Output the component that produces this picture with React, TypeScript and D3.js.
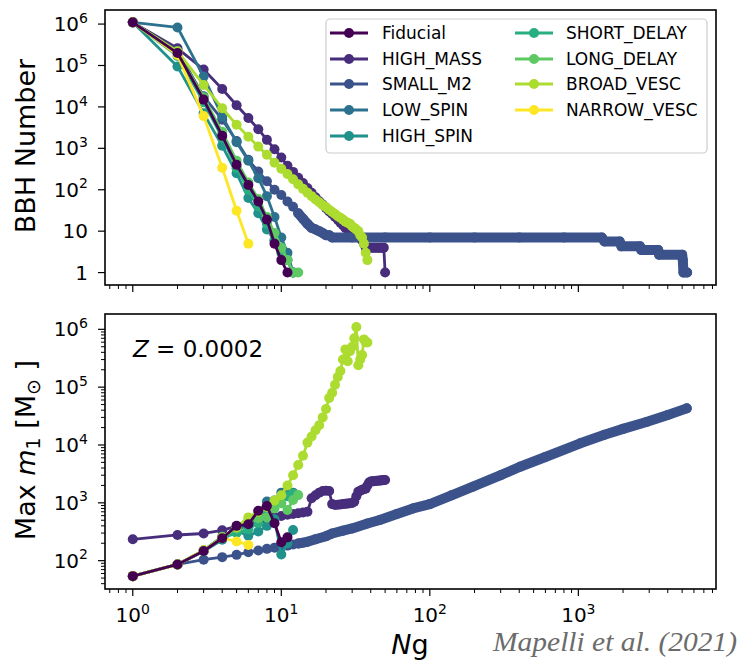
import React from 'react';
import * as d3 from 'd3';

// ---------- DATA ----------
const seriesNames = ['Fiducial', 'HIGH_MASS', 'SMALL_M2', 'LOW_SPIN', 'HIGH_SPIN', 'SHORT_DELAY', 'LONG_DELAY', 'BROAD_VESC', 'NARROW_VESC'];

// BBH number vs Ng (Ng = 1,2,3,... unless an Ng list is given)
const fiducialTop = [1.1e6, 2e5, 1.5e4, 2000, 400, 130, 52, 19, 5, 2, 1];
const highMassTop = [1.1e6, 2.6e5, 8e4, 2.7e4, 1.1e4, 5400, 2900, 1600, 950, 600,
  380, 270, 195, 145, 110, 85, 66, 53, 44, 36,
  30, 26, 22, 19, 16, 14, 12, 11, 10, 9,
  8, 8, 7, 7, 6, 5, 4, 4, 4, 4,
  4, 4, 4, 4, 4, 4, 4, 4, 4, 1];
const smallM2TopNg = [1, 2, 3, 4, 5, 6, 7, 8, 9, 10, 11, 12, 13, 14, 15, 16, 17, 18, 19, 20, 21, 22,
  30, 50, 100, 200, 400, 800, 1440, 1500, 1900, 1950, 2600, 2650, 3450, 3500, 5000, 5050, 5100, 5400];
const smallM2Top = [1.1e6, 2.3e5, 1.8e4, 4900, 1500, 530, 275, 160, 100, 75, 52, 39, 27, 20, 15, 12, 11, 10, 9, 8, 8, 7,
  7, 7, 7, 7, 7, 7, 7, 5.6, 5.6, 4.3, 4.3, 3.5, 3.5, 2.7, 2.7, 2, 1, 1];
const lowSpinTop = [1.1e6, 8.3e5, 5.4e4, 5900, 1400, 500, 190, 70, 22, 7, 3, 1];
const highSpinTop = [1.1e6, 9.5e4, 7000, 1150, 250, 63, 27, 11, 6, 4, 2, 1];
const shortDelayTop = [1.1e6, 1.7e5, 1.3e4, 1800, 330, 100, 40, 15, 6, 3, 2, 1];
const longDelayTop = [1.1e6, 2.1e5, 1.7e4, 2500, 500, 150, 60, 22, 9, 4, 2, 1, 1];
const broadVescTop = [1.1e6, 2.2e5, 3.4e4, 9300, 3700, 1900, 1100, 700, 450, 320,
  240, 180, 135, 105, 85, 70, 58, 50, 43, 38,
  33, 29, 26, 23, 21, 19, 17, 16, 15, 13,
  12, 11, 10, 8, 7, 5, 3, 2];
const narrowVescTop = [1.1e6, 1.8e5, 6000, 340, 31, 5];

// Max m1 [Msun] vs Ng
const fiducialMax = [54, 86, 147, 244, 400, 425, 730, 880, 443, 208, 253];
const highMassMax = [234, 278, 295, 335, 395, 430, 470, 520, 570, 590,
  620, 640, 660, 680, 700, 1200, 1350, 1500, 1600, 1620,
  1600, 950, 920, 930, 940, 950, 960, 970, 980, 990,
  1050, 1300, 1560, 1620, 1680, 1720, 1760, 2000, 2250, 2330,
  2350, 2370, 2390, 2400, 2420, 2430, 2440, 2450, 2470, 2480];
const smallM2MaxNg = [1, 2, 3, 4, 5, 6, 7, 8, 9, 10, 11, 12, 13, 14, 15, 17, 20, 22, 26, 30, 38, 46, 60, 77, 100, 140, 195, 300, 405, 600, 1030, 1500, 2000, 2870, 4000, 5370];
const smallM2Max = [54, 86, 104, 115, 126, 140, 150, 160, 168, 175, 182, 190, 198, 205, 212, 235, 265, 295, 330, 360, 440, 505, 640, 800, 950, 1350, 1900, 3000, 4200, 6200, 10700, 15000, 19000, 25000, 33000, 43000];
const lowSpinMax = [54, 86, 150, 260, 330, 420, 700, 1050, 1100, 1500, 1450, 1500];
const highSpinMax = [54, 86, 145, 230, 330, 270, 320, 400, 520, 128, 200, 340];
const shortDelayMax = [54, 86, 150, 250, 300, 350, 450, 620, 1000, 1200, 1300, 1450];
const longDelayMax = [54, 86, 150, 260, 360, 500, 540, 560, 800, 980, 750, 1120, 1360];
const broadVescMax = [54, 86, 150, 250, 380, 560, 700, 850, 1100, 1350,
  2000, 3000, 4500, 6500, 1.1e4, 1.4e4, 1.8e4, 2.2e4, 3e4, 4.2e4,
  6.5e4, 8e4, 1.1e5, 1.5e5, 1.9e5, 3e5, 4.5e5, 2.8e5, 4.2e5, 5e5,
  7e5, 1.1e6, 2.4e5, 3e5, 3.6e5, 6.7e5, 6e5, 5.9e5];
const narrowVescMax = [54, 86, 150, 245, 215, 187];

const topValues = [fiducialTop, highMassTop, smallM2Top, lowSpinTop, highSpinTop, shortDelayTop, longDelayTop, broadVescTop, narrowVescTop];
const maxValues = [fiducialMax, highMassMax, smallM2Max, lowSpinMax, highSpinMax, shortDelayMax, longDelayMax, broadVescMax, narrowVescMax];
const topNg: (number[] | null)[] = [null, null, smallM2TopNg, null, null, null, null, null, null];
const maxNg: (number[] | null)[] = [null, null, smallM2MaxNg, null, null, null, null, null, null];

const xMajorTicks = [1, 10, 100, 1000];
const topYMajor = [1, 10, 100, 1e3, 1e4, 1e5, 1e6];
const botYMajor = [1e2, 1e3, 1e4, 1e5, 1e6];

// ---------- LAYOUT ----------
const W = 738, H = 660;
const X0 = 105, X1 = 716;
const TOP = { y0: 10, y1: 285 };
const BOT = { y0: 314, y1: 589 };
const FONT = 'DejaVu Sans, sans-serif';
const LW = 2.8;
const MR = 5;

const xScale = d3.scaleLog().domain([0.65, 8450]).range([X0, X1]);
const yTop = d3.scaleLog().domain([Math.pow(10, -0.3), Math.pow(10, 6.34)]).range([TOP.y1, TOP.y0]);
const yBot = d3.scaleLog().domain([Math.pow(10, 1.51), Math.pow(10, 6.265)]).range([BOT.y1, BOT.y0]);

const colors = seriesNames.map((_, i) => d3.interpolateViridis(i / 8));
const drawOrder = [1, 2, 3, 4, 5, 6, 7, 8, 0];

type Pt = { x: number; y: number };
function toPoints(vals: number[], ngs: number[] | null): Pt[] {
  return vals.map((v, i) => ({ x: ngs ? ngs[i] : i + 1, y: v }));
}

function minorTicks(scale: d3.ScaleLogarithmic<number, number>): number[] {
  const [a, b] = scale.domain();
  const out: number[] = [];
  for (let e = Math.floor(Math.log10(a)); e <= Math.ceil(Math.log10(b)); e++) {
    for (let k = 2; k <= 9; k++) {
      const v = k * Math.pow(10, e);
      if (v >= a && v <= b) out.push(v);
    }
  }
  return out;
}

function Pow10({ e, x, y, anchor, size, plain }: { e: number; x: number; y: number; anchor: string; size: number; plain?: boolean }) {
  if (plain && e === 0) return <text x={x} y={y} dy="0.35em" textAnchor={anchor} fontSize={size} fontFamily={FONT}>1</text>;
  if (plain && e === 1) return <text x={x} y={y} dy="0.35em" textAnchor={anchor} fontSize={size} fontFamily={FONT}>10</text>;
  return (
    <text x={x} y={y} dy="0.35em" textAnchor={anchor} fontSize={size} fontFamily={FONT}>
      10<tspan dy={-size * 0.42} fontSize={size * 0.7}>{e}</tspan>
    </text>
  );
}

function Panel({ yScale, box, values, ngs, yMajor, yMinor, plainLabels, clipId }: any) {
  const line = d3.line<Pt>().x(d => xScale(d.x)).y(d => yScale(d.y));
  const xMinor = minorTicks(xScale);
  return (
    <g>
      <defs>
        <clipPath id={clipId}>
          <rect x={X0} y={box.y0} width={X1 - X0} height={box.y1 - box.y0} />
        </clipPath>
      </defs>
      <g clipPath={`url(#${clipId})`}>
        {drawOrder.map(i => {
          const pts = toPoints(values[i], ngs[i]);
          const c = colors[i];
          const band = ngs[i] ? pts.filter(p => p.x >= 13) : [];
          return (
            <g key={i}>
              {band.length > 1 && (
                <path d={line(band) || ''} fill="none" stroke={c} strokeWidth={MR * 2} strokeLinecap="round" strokeLinejoin="round" />
              )}
              <path d={line(pts) || ''} fill="none" stroke={c} strokeWidth={LW} strokeLinejoin="round" />
              {pts.map((p, j) => (
                <circle key={j} cx={xScale(p.x)} cy={yScale(p.y)} r={MR} fill={c} />
              ))}
            </g>
          );
        })}
      </g>
      {xMajorTicks.map(t => (
        <line key={'xM' + t} x1={xScale(t)} x2={xScale(t)} y1={box.y1} y2={box.y1 + 7} stroke="#000" strokeWidth={1.2} />
      ))}
      {xMinor.map(t => (
        <line key={'xm' + t} x1={xScale(t)} x2={xScale(t)} y1={box.y1} y2={box.y1 + 4} stroke="#000" strokeWidth={1} />
      ))}
      {yMajor.map((t: number) => (
        <line key={'yM' + t} x1={X0 - 7} x2={X0} y1={yScale(t)} y2={yScale(t)} stroke="#000" strokeWidth={1.2} />
      ))}
      {yMinor.map((t: number) => (
        <line key={'ym' + t} x1={X0 - 4} x2={X0} y1={yScale(t)} y2={yScale(t)} stroke="#000" strokeWidth={1} />
      ))}
      {yMajor.map((t: number) => (
        <Pow10 key={'yl' + t} e={Math.round(Math.log10(t))} x={X0 - 17} y={yScale(t)} anchor="end" size={20} plain={plainLabels} />
      ))}
      <rect x={X0} y={box.y0} width={X1 - X0} height={box.y1 - box.y0} fill="none" stroke="#000" strokeWidth={1.6} />
    </g>
  );
}

function Legend() {
  const lx = 326, ly = 19, lw = 381, lh = 134;
  const rowY = [33, 59, 84, 110, 136];
  const cols = [{ h0: 330, h1: 368, tx: 382 }, { h0: 515, h1: 553, tx: 566 }];
  return (
    <g>
      <rect x={lx} y={ly} width={lw} height={lh} rx={4} fill="#fff" fillOpacity={0.8} stroke="#cccccc" strokeWidth={1.2} />
      {seriesNames.map((name, i) => {
        const col = i < 5 ? cols[0] : cols[1];
        const y = rowY[i < 5 ? i : i - 5];
        return (
          <g key={name}>
            <line x1={col.h0} x2={col.h1} y1={y} y2={y} stroke={colors[i]} strokeWidth={LW} />
            <circle cx={(col.h0 + col.h1) / 2} cy={y} r={MR} fill={colors[i]} />
            <text x={col.tx} y={y} dy="0.35em" fontSize={17} fontFamily={FONT}>{name}</text>
          </g>
        );
      })}
    </g>
  );
}

export default function App() {
  return (
    <div style={{ position: 'absolute', left: 0, top: 0 }}>
      <svg width={W} height={H} viewBox={`0 0 ${W} ${H}`} style={{ display: 'block' }}>
        <rect x={0} y={0} width={W} height={H} fill="#fff" />
        <Panel yScale={yTop} box={TOP} values={topValues} ngs={topNg} yMajor={topYMajor} yMinor={[]} plainLabels={true} clipId="clipTop" />
        <Panel yScale={yBot} box={BOT} values={maxValues} ngs={maxNg} yMajor={botYMajor} yMinor={minorTicks(yBot)} plainLabels={false} clipId="clipBot" />
        <Legend />
        {xMajorTicks.map(t => (
          <text key={'xl' + t} x={xScale(t)} y={622} textAnchor="middle" fontSize={20} fontFamily={FONT}>
            10<tspan dy={-8.5} fontSize={14}>{Math.round(Math.log10(t))}</tspan>
          </text>
        ))}
        <text transform="translate(35,146) rotate(-90)" textAnchor="middle" fontSize={27} fontFamily={FONT}>BBH Number</text>
        <text transform="translate(35,450) rotate(-90)" textAnchor="middle" fontSize={27} fontFamily={FONT}>
          Max <tspan fontStyle="italic">m</tspan><tspan dy={5} fontSize={19}>1</tspan><tspan dy={-5}> [M</tspan><tspan dy={5} fontSize={19}>⊙</tspan><tspan dy={-5}> ]</tspan>
        </text>
        <text x={133} y={357} fontSize={23} fontFamily={FONT}>
          <tspan fontStyle="italic">Z</tspan> = 0.0002
        </text>
        <text x={410} y={654} textAnchor="middle" fontSize={27} fontFamily={FONT}>
          <tspan fontStyle="italic">N</tspan>g
        </text>
        <text x={737} y={651} textAnchor="end" fontSize={28} fontStyle="italic" fill="#6b6b6b" fontFamily="Liberation Serif, DejaVu Serif, serif" textLength={244} lengthAdjust="spacingAndGlyphs">
          Mapelli et al. (2021)
        </text>
      </svg>
    </div>
  );
}
